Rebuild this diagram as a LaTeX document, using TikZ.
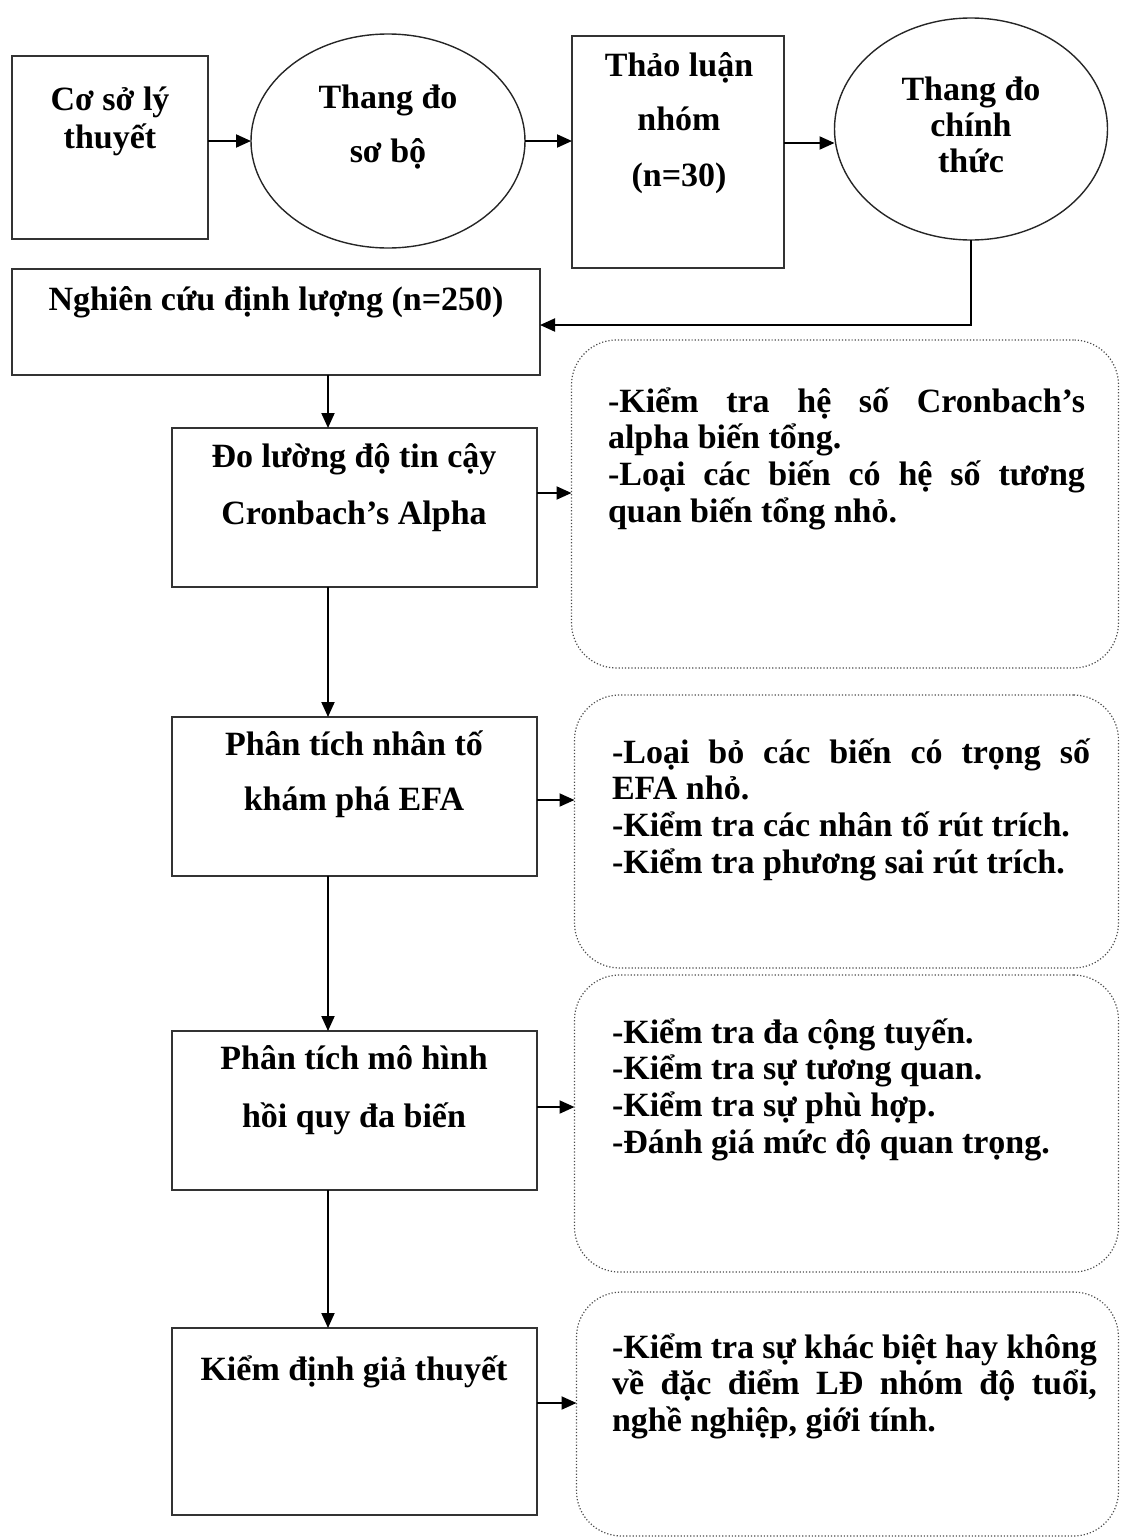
\documentclass[tikz,border=0pt]{standalone}
\usepackage{fontspec}
\setmainfont{Liberation Serif}
\usetikzlibrary{shapes.geometric,arrows.meta}
\hyphenpenalty=10000
\exhyphenpenalty=10000
\tolerance=10000
\begin{document}
\begin{tikzpicture}[x=1pt,y=-1pt,
  every node/.style={inner sep=0pt, outer sep=0pt},
  box/.style={draw=black!80, line width=1.8pt, rectangle},
  oval/.style={draw=black!85, line width=1.4pt, ellipse},
  note/.style={draw=black!70, line width=1.2pt, dotted, rounded corners=45pt, rectangle},
  arr/.style={line width=2pt, -{Triangle[length=15pt,width=13pt]}},
  lbl/.style={anchor=base, font=\bfseries\fontsize{34}{40}\selectfont},
  para/.style={anchor=base west, align=justify, execute at begin node={\parindent=0pt},
    font=\bfseries\fontsize{34}{36.7}\selectfont}
]
\useasboundingbox (0,0) rectangle (1120,1537);

% top row
\node[box, minimum width=196pt, minimum height=183pt] (b1) at (110,147.5) {};
\node[oval, minimum width=274pt, minimum height=214pt] (e1) at (388,141) {};
\node[box, minimum width=212pt, minimum height=232pt] (t) at (678,152) {};
\node[oval, minimum width=273pt, minimum height=222pt] (e2) at (971,129) {};

% left column
\node[box, minimum width=528pt, minimum height=106pt] (n) at (276,322) {};
\node[box, minimum width=365pt, minimum height=159pt] (d) at (354.5,507.5) {};
\node[box, minimum width=365pt, minimum height=159pt] (p) at (354.5,796.5) {};
\node[box, minimum width=365pt, minimum height=159pt] (m) at (354.5,1110.5) {};
\node[box, minimum width=365pt, minimum height=187pt] (k) at (354.5,1421.5) {};

% right notes
\node[note, minimum width=547pt, minimum height=328pt] (r1) at (845,504) {};
\node[note, minimum width=544pt, minimum height=273pt] (r2) at (846.5,831.5) {};
\node[note, minimum width=544pt, minimum height=297pt] (r3) at (846.5,1123.5) {};
\node[note, minimum width=542pt, minimum height=244pt] (r4) at (847.5,1414) {};

% labels
\node[lbl] (tb1a) at (110,110) {Cơ sở lý};
\node[lbl] (tb1b) at (110,148) {thuyết};
\node[lbl] (te1a) at (388,108) {Thang đo};
\node[lbl] (te1b) at (388,162) {sơ bộ};
\node[lbl] (tt1) at (679,76) {Thảo luận};
\node[lbl] (tt2) at (679,130) {nhóm};
\node[lbl] (tt3) at (679,186) {(n=30)};
\node[lbl] (te2a) at (971,100) {Thang đo};
\node[lbl] (te2b) at (971,136) {chính};
\node[lbl] (te2c) at (971,172) {thức};
\node[lbl] (tn) at (276,310) {Nghiên cứu định lượng (n=250)};
\node[lbl] (td1) at (354,467) {Đo lường độ tin cậy};
\node[lbl] (td2) at (354,524) {Cronbach’s Alpha};
\node[lbl] (tp1) at (354,755) {Phân tích nhân tố};
\node[lbl] (tp2) at (354,810) {khám phá EFA};
\node[lbl] (tm1) at (354,1069) {Phân tích mô hình};
\node[lbl] (tm2) at (354,1127) {hồi quy đa biến};
\node[lbl] (tk) at (354,1380) {Kiểm định giả thuyết};

\node[para, text width=477pt] (x1) at (608,412) {-Kiểm tra hệ số Cronbach’s\linebreak alpha biến tổng.\par -Loại các biến có hệ số tương\linebreak quan biến tổng nhỏ.};
\node[para, text width=478pt] (x2) at (612,763) {-Loại bỏ các biến có trọng số\linebreak EFA nhỏ.\par -Kiểm tra các nhân tố rút trích.\par -Kiểm tra phương sai rút trích.};
\node[para, text width=478pt] (x3) at (612,1043) {-Kiểm tra đa cộng tuyến.\par -Kiểm tra sự tương quan.\par -Kiểm tra sự phù hợp.\par -Đánh giá mức độ quan trọng.};
\node[para, text width=485pt] (x4) at (612,1358) {-Kiểm tra sự khác biệt hay không\linebreak về đặc điểm LĐ nhóm độ tuổi,\linebreak nghề nghiệp, giới tính.};

% connectors
\coordinate (vx) at (328,0);
\draw[arr] (b1.east |- e1.west) -- (e1.west);
\draw[arr] (e1.east) -- (e1.east -| t.west);
\draw[arr] ([yshift=9pt]t.east) coordinate (a0) -- (a0 -| e2.west);
\draw[arr] (e2.south) |- ([yshift=-3pt]n.east);
\draw[arr] (n.south -| vx) -- (d.north -| vx);
\draw[arr] (d.south -| vx) -- (p.north -| vx);
\draw[arr] (p.south -| vx) -- (m.north -| vx);
\draw[arr] (m.south -| vx) -- (k.north -| vx);
\draw[arr] ([yshift=14.5pt]d.east) coordinate (a1) -- (a1 -| r1.west);
\draw[arr] ([yshift=-3.5pt]p.east) coordinate (a2) -- (a2 -| r2.west);
\draw[arr] ([yshift=3.5pt]m.east) coordinate (a3) -- (a3 -| r3.west);
\draw[arr] ([yshift=18.5pt]k.east) coordinate (a4) -- (a4 -| r4.west);
\end{tikzpicture}
\end{document}
